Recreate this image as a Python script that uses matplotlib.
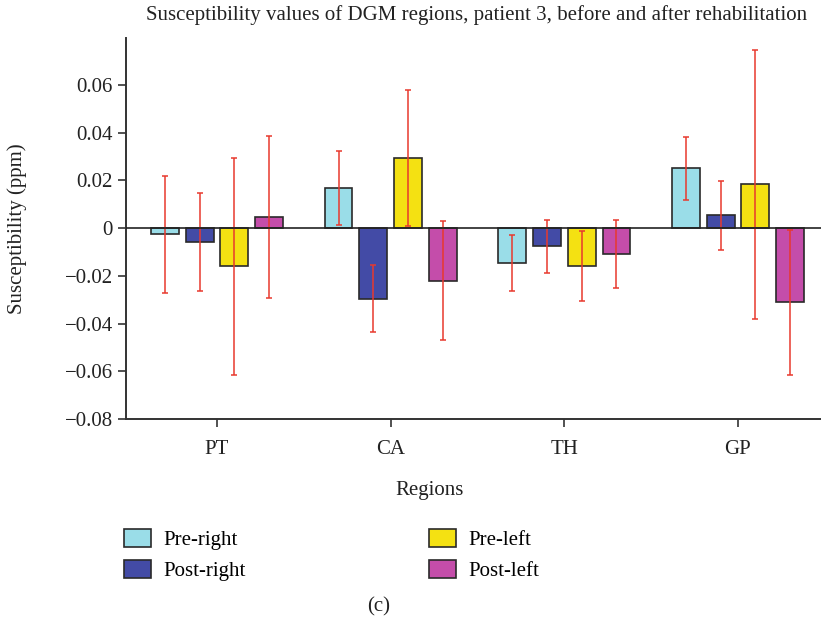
import numpy as np
import matplotlib
matplotlib.use("Agg")
import matplotlib.pyplot as plt

plt.rcParams['font.family'] = ['Liberation Serif', 'DejaVu Serif']

regions = ["PT", "CA", "TH", "GP"]
series = ["Pre-right", "Post-right", "Pre-left", "Post-left"]
colors = ["#9adde8", "#434ba6", "#f4e112", "#c44daa"]

# mean values (ppm), one list per series, in region order
pre_right = [-0.0025, 0.0170, -0.0145, 0.0250]
post_right = [-0.0058, -0.0296, -0.0076, 0.0053]
pre_left = [-0.0160, 0.0295, -0.0159, 0.0184]
post_left = [0.0047, -0.0220, -0.0109, -0.0310]

# error bar half-lengths
pre_right_err = [0.0245, 0.0155, 0.0118, 0.0130]
post_right_err = [0.0206, 0.0140, 0.0111, 0.0145]
pre_left_err = [0.0456, 0.0284, 0.0148, 0.0563]
post_left_err = [0.0340, 0.0250, 0.0143, 0.0304]

values = [pre_right, post_right, pre_left, post_left]
errors = [pre_right_err, post_right_err, pre_left_err, post_left_err]

fs = 15

fig = plt.figure(figsize=(8.21, 6.22), dpi=100)
ax = fig.add_axes([0.1535, 0.3264, 0.8465, 0.6125])

x = np.arange(len(regions))
offsets = [-0.3, -0.1, 0.1, 0.3]
width = 0.16
for vals, errs, col, name, off in zip(values, errors, colors, series, offsets):
    ax.bar(x + off, vals, width, color=col, edgecolor="#2a2a2a", linewidth=1.2,
           label=name, zorder=2)
    ax.errorbar(x + off, vals, yerr=errs, fmt="none", ecolor="#e8392e",
                elinewidth=1.1, capsize=2.5, capthick=1.1, zorder=3)

ax.axhline(0, color="#222222", linewidth=1.2, zorder=4)

ax.set_xlim(-0.524, 3.478)
ax.set_ylim(-0.08, 0.0797)
ax.set_yticks([-0.08, -0.06, -0.04, -0.02, 0, 0.02, 0.04, 0.06])
ax.set_yticklabels(["\u22120.08", "\u22120.06", "\u22120.04", "\u22120.02", "0",
                    "0.02", "0.04", "0.06"])
ax.set_xticks(x)
ax.set_xticklabels(regions)
ax.tick_params(axis="both", labelsize=fs, length=6, width=1.2, color="#333333",
               labelcolor="#222222")
ax.tick_params(axis="x", pad=9)
for s in ["top", "right"]:
    ax.spines[s].set_visible(False)
for s in ["left", "bottom"]:
    ax.spines[s].set_linewidth(1.4)
    ax.spines[s].set_color("#333333")

ax.set_ylabel("Susceptibility (ppm)", fontsize=fs, color="#222222")
ax.yaxis.set_label_coords(-0.142, 0.5)
fig.text(477 / 821, 1 - 15 / 622,
         "Susceptibility values of DGM regions, patient 3, before and after rehabilitation",
         ha="center", va="center", fontsize=fs, color="#222222")
fig.text(430 / 821, 1 - 490 / 622, "Regions", ha="center", va="center",
         fontsize=fs, color="#222222")
fig.text(379 / 821, 1 - 607 / 622, "(c)", ha="center", va="center",
         fontsize=fs, color="#222222")

handles, labels = ax.get_legend_handles_labels()
fig.legend(handles, labels, ncol=2, loc="upper left",
           bbox_to_anchor=(105 / 821, 1 - 510 / 622), frameon=False,
           fontsize=fs, handlelength=1.3, handleheight=0.95,
           handletextpad=0.6, columnspacing=8.8, labelspacing=0.5)

fig.savefig("out.png", dpi=100)
